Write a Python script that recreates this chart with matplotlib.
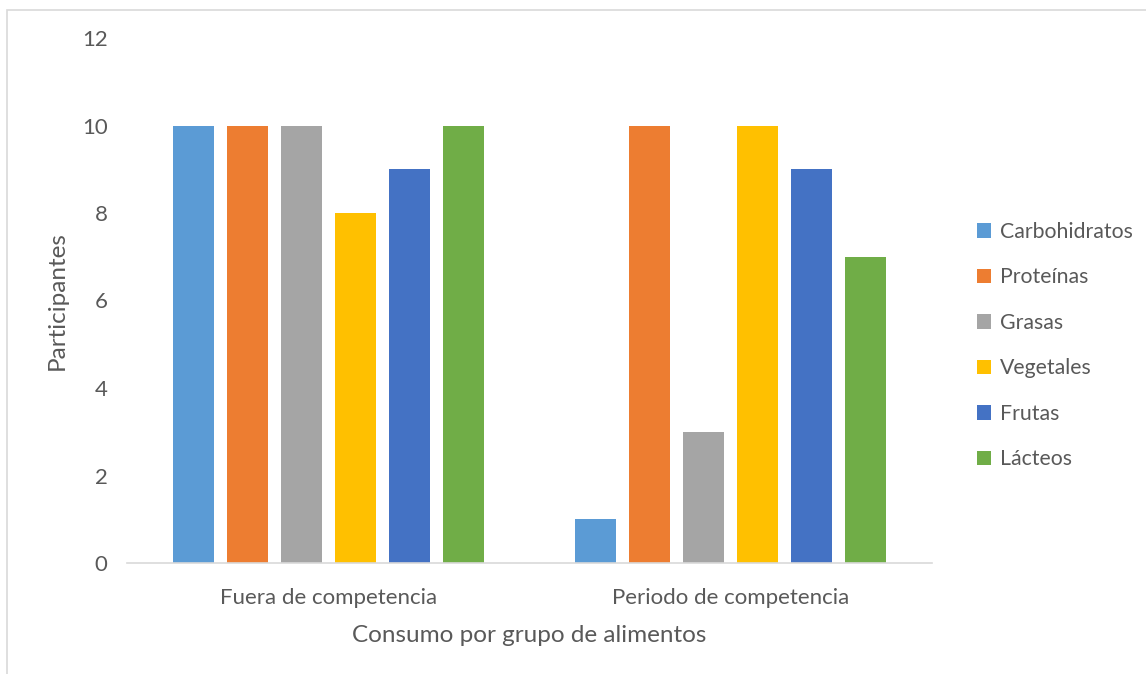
import numpy as np
import matplotlib.pyplot as plt
from matplotlib.patches import Rectangle

plt.rcParams['font.family'] = ['Lato', 'DejaVu Sans']

groups = ["Fuera de competencia", "Periodo de competencia"]
series = ["Carbohidratos", "Proteínas", "Grasas", "Vegetales", "Frutas", "Lácteos"]
carbohidratos = [10, 1]
proteinas = [10, 10]
grasas = [10, 3]
vegetales = [8, 10]
frutas = [9, 9]
lacteos = [10, 7]
values = [carbohidratos, proteinas, grasas, vegetales, frutas, lacteos]
colors = ["#5B9BD5", "#ED7D31", "#A5A5A5", "#FFC000", "#4472C4", "#70AD47"]
text_color = "#595959"

fig = plt.figure(figsize=(11.46, 6.74), dpi=100)
ax = fig.add_axes([127 / 1146, 111 / 674, 805 / 1146, 525 / 674])

# outer chart border (light gray, top and left visible)
fig.patches.append(Rectangle((7 / 1146, -0.1), 1.2, 1 - 10 / 674 + 0.1,
                             transform=fig.transFigure, fill=False,
                             edgecolor="#d9d9d9", linewidth=1.2))

x = np.arange(len(groups))
slot = 54 / 402.5
width = 41 / 402.5
for i, (name, vals, c) in enumerate(zip(series, values, colors)):
    offs = (i - (len(series) - 1) / 2) * slot
    ax.bar(x + offs, vals, width, color=c, label=name)

ax.set_xlim(-0.5, 1.5)
ax.set_ylim(0, 12)
ax.set_yticks(range(0, 13, 2))
ax.set_xticks(x)
ax.set_xticklabels(groups)
ax.tick_params(axis='both', length=0, labelsize=16, colors=text_color)
ax.tick_params(axis='y', pad=14)
ax.tick_params(axis='x', pad=18)
for s in ["top", "right", "left"]:
    ax.spines[s].set_visible(False)
ax.spines["bottom"].set_color("#d9d9d9")
ax.spines["bottom"].set_linewidth(1.2)

ax.set_ylabel("Participantes", fontsize=17.5, color=text_color, labelpad=10)
ax.set_xlabel("Consumo por grupo de alimentos", fontsize=17.5, color=text_color, labelpad=12)

fig.legend(loc="center left", bbox_to_anchor=(966 / 1146, 1 - 345.5 / 674),
           frameon=False, fontsize=15.3, handlelength=0.68, handleheight=0.68,
           handletextpad=0.4, labelspacing=1.2, borderpad=0, labelcolor=text_color)

fig.savefig("out.png", dpi=100)
